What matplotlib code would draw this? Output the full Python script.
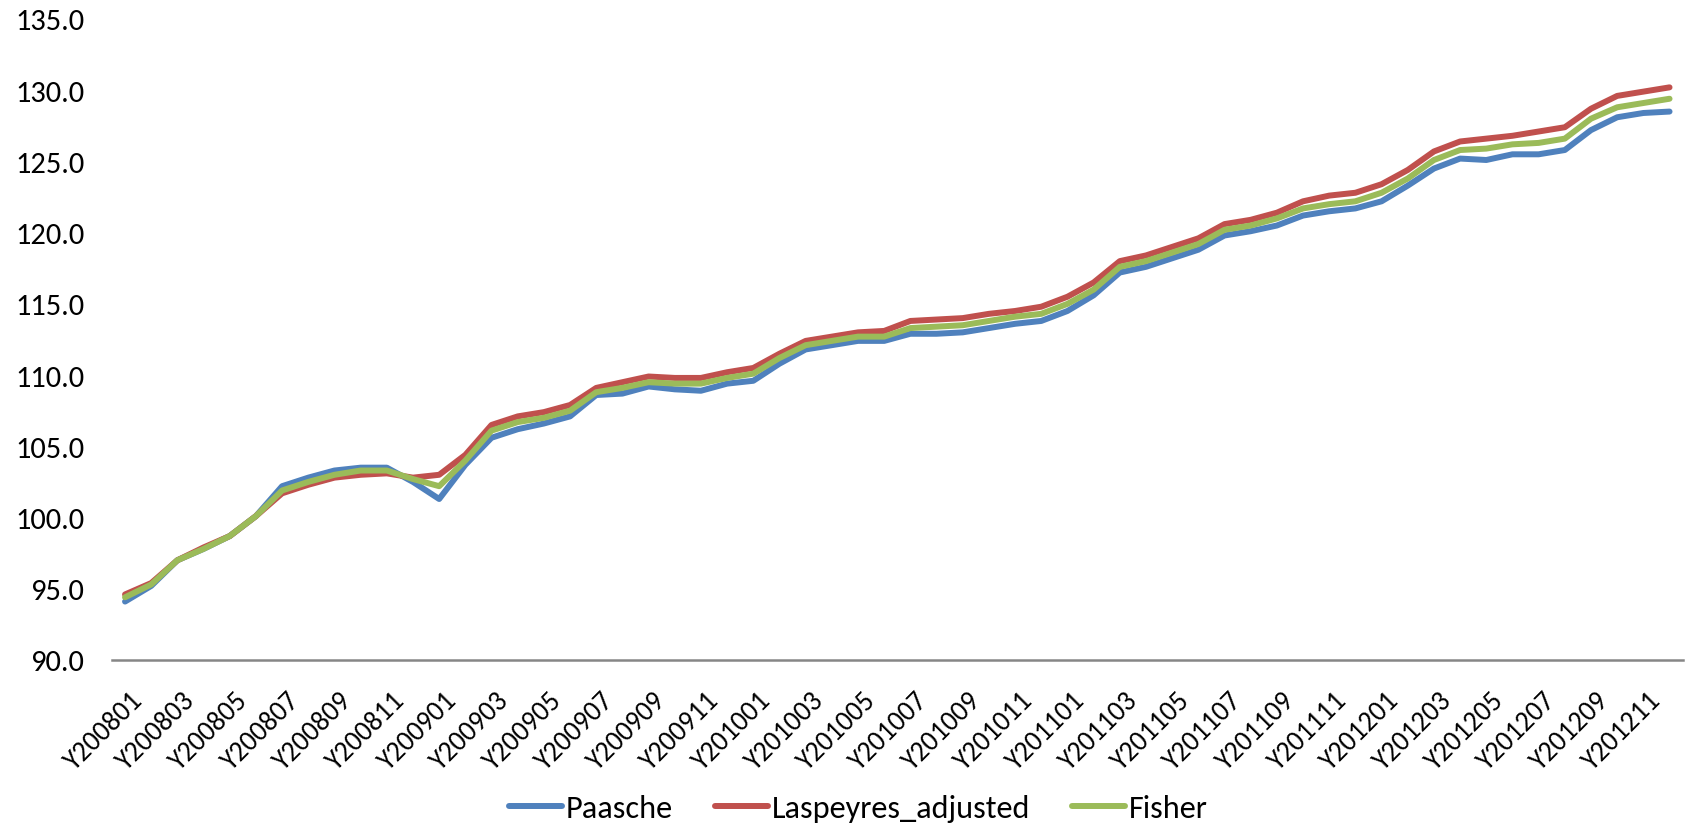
import matplotlib
matplotlib.use("Agg")
import matplotlib.pyplot as plt
import matplotlib.transforms as mtransforms

# Índices de precios mensuales 2008-2012
meses = [f"Y{a}{m:02d}" for a in range(2008, 2013) for m in range(1, 13)]

paasche = [94.1, 95.2, 97.0, 97.8, 98.7, 100.1, 102.2, 102.8, 103.3, 103.5, 103.5, 102.5,
           101.3, 103.7, 105.6, 106.2, 106.6, 107.1, 108.6, 108.7, 109.2, 109.0, 108.9, 109.4,
           109.6, 110.8, 111.8, 112.1, 112.4, 112.4, 112.9, 112.9, 113.0, 113.3, 113.6, 113.8,
           114.5, 115.6, 117.2, 117.6, 118.2, 118.8, 119.8, 120.1, 120.5, 121.2, 121.5, 121.7,
           122.2, 123.3, 124.5, 125.2, 125.1, 125.5, 125.5, 125.8, 127.2, 128.1, 128.4, 128.5]

laspeyres = [94.6, 95.4, 97.0, 97.9, 98.7, 100.1, 101.7, 102.3, 102.8, 103.0, 103.1, 102.8,
             103.0, 104.4, 106.5, 107.1, 107.4, 107.9, 109.1, 109.5, 109.9, 109.8, 109.8, 110.2,
             110.5, 111.5, 112.4, 112.7, 113.0, 113.1, 113.8, 113.9, 114.0, 114.3, 114.5, 114.8,
             115.5, 116.5, 118.0, 118.4, 119.0, 119.6, 120.6, 120.9, 121.4, 122.2, 122.6, 122.8,
             123.4, 124.4, 125.7, 126.4, 126.6, 126.8, 127.1, 127.4, 128.7, 129.6, 129.9, 130.2]

fisher = [94.4, 95.3, 97.0, 97.8, 98.7, 100.1, 101.9, 102.5, 103.0, 103.3, 103.3, 102.7,
          102.2, 104.0, 106.1, 106.7, 107.0, 107.5, 108.8, 109.1, 109.5, 109.4, 109.4, 109.8,
          110.1, 111.2, 112.1, 112.4, 112.7, 112.7, 113.3, 113.4, 113.5, 113.8, 114.1, 114.3,
          115.0, 116.0, 117.6, 118.0, 118.6, 119.2, 120.2, 120.5, 121.0, 121.7, 122.0, 122.2,
          122.8, 123.8, 125.1, 125.8, 125.9, 126.2, 126.3, 126.6, 128.0, 128.8, 129.1, 129.4]

series = [("Paasche", paasche, "#4F81BD"),
          ("Laspeyres_adjusted", laspeyres, "#C0504D"),
          ("Fisher", fisher, "#9BBB59")]

plt.rcParams['font.family'] = ['Carlito', 'DejaVu Sans']

fig = plt.figure(figsize=(16.86, 8.29), dpi=100)
ax = fig.add_axes([0.0664, 0.2027, 0.9316, 0.7732])

x = list(range(len(meses)))
for nombre, valores, color in series:
    ax.plot(x, valores, color=color, linewidth=4.3, label=nombre,
            solid_capstyle='round', solid_joinstyle='round')

ax.set_xlim(-0.5, len(meses) - 0.5)
ax.set_ylim(90, 135)
ax.set_yticks(range(90, 136, 5))
ax.set_yticklabels([f"{v:.1f}" for v in range(90, 136, 5)], fontsize=22)
ax.set_xticks(x[::2])
ax.set_xticklabels(meses[::2], rotation=45, ha='right', va='top',
                   rotation_mode='anchor', fontsize=20)
ax.tick_params(axis='y', length=0, pad=20)
ax.tick_params(axis='x', length=0, pad=20)

# desplazar un poco las etiquetas del eje x hacia la derecha
desplazamiento = mtransforms.ScaledTranslation(3 / 72, 0, fig.dpi_scale_trans)
for etiqueta in ax.get_xticklabels():
    etiqueta.set_transform(etiqueta.get_transform() + desplazamiento)

for lado in ['top', 'right', 'left']:
    ax.spines[lado].set_visible(False)
ax.spines['bottom'].set_color('#868686')
ax.spines['bottom'].set_linewidth(1.8)

fig.legend(loc='center', bbox_to_anchor=(0.509, 0.024), ncol=3, frameon=False,
           fontsize=23.2, handlelength=1.65, handletextpad=0.12, columnspacing=1.3)

fig.savefig("out.png", dpi=100)
